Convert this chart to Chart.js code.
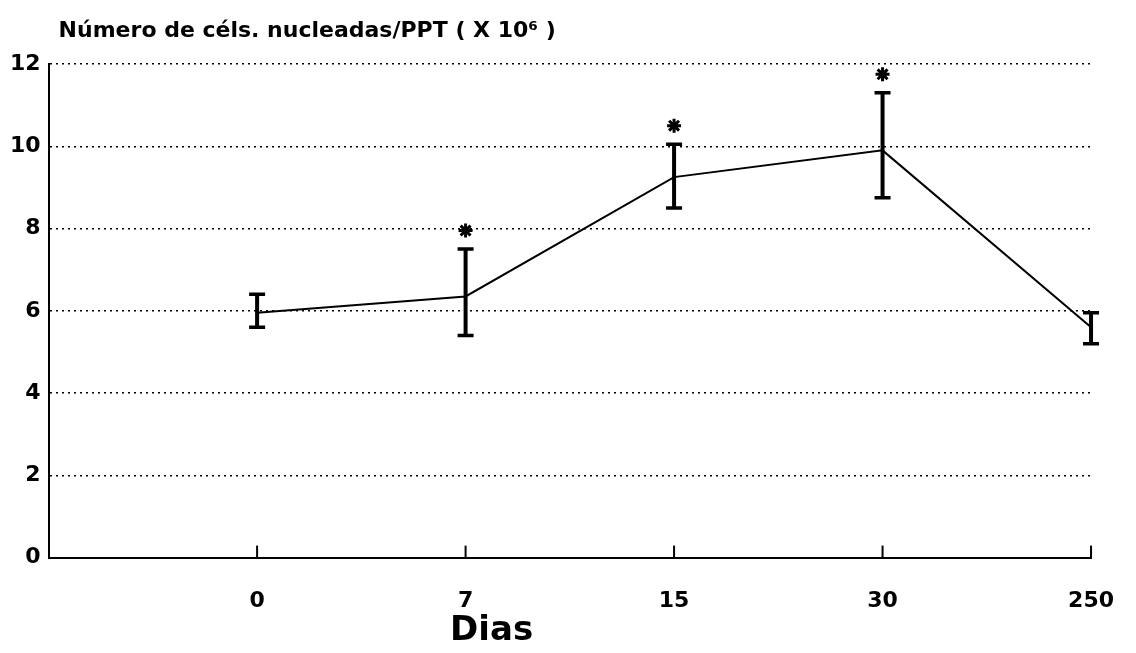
<!DOCTYPE html>
<html>
<head>
<meta charset="utf-8">
<script src="https://cdn.jsdelivr.net/npm/chart.js@4"></script>
<style>
  html, body { margin: 0; padding: 0; background: #fff; }
  #wrap { width: 1136px; height: 653px; }
</style>
</head>
<body>
<div id="wrap"><canvas id="c" width="1136" height="653"></canvas></div>
<script>
const days = ['', '0', '7', '15', '30', '250']
const means = [null, 5.95, 6.35, 9.25, 9.9, 5.6]
const errLow = [null, 5.6, 5.4, 8.5, 8.75, 5.2]
const errHigh = [null, 6.4, 7.5, 10.05, 11.3, 5.95]
const signif = [null, null, 7.95, 10.5, 11.75, null]
const yTicks = [0, 2, 4, 6, 8, 10, 12]

const titleText = 'Número de céls. nucleadas/PPT ( X 10⁶ )'
const xTitle = 'Dias'
const FONT = '"DejaVu Sans", Verdana, sans-serif'

const extras = {
    id: 'extras',
    afterDatasetsDraw(chart) {
        const { ctx, chartArea, scales: { x, y } } = chart
        ctx.save()
        ctx.strokeStyle = '#000'
        ctx.lineCap = 'butt'

        // error bars
        for (let i = 0; i < days.length; i++) {
            if (errLow[i] == null) continue
            const px = x.getPixelForValue(i)
            const lo = y.getPixelForValue(errLow[i])
            const hi = y.getPixelForValue(errHigh[i])
            ctx.lineWidth = 4
            ctx.beginPath()
            ctx.moveTo(px, lo)
            ctx.lineTo(px, hi)
            ctx.stroke()
            ctx.lineWidth = 3.5
            ctx.beginPath()
            ctx.moveTo(px - 8, lo)
            ctx.lineTo(px + 8, lo)
            ctx.moveTo(px - 8, hi)
            ctx.lineTo(px + 8, hi)
            ctx.stroke()
        }

        // small inside ticks on x axis
        ctx.lineWidth = 2
        for (let i = 1; i < days.length; i++) {
            const px = x.getPixelForValue(i)
            ctx.beginPath()
            ctx.moveTo(px, chartArea.bottom)
            ctx.lineTo(px, chartArea.bottom - 12)
            ctx.stroke()
        }

        // titles
        ctx.fillStyle = '#000'
        ctx.textBaseline = 'middle'
        ctx.textAlign = 'left'
        ctx.font = 'bold 22px ' + FONT
        ctx.fillText(titleText, chartArea.left + 10, chartArea.top - 33)
        ctx.textAlign = 'center'
        ctx.font = 'bold 34px ' + FONT
        ctx.fillText(xTitle, chartArea.left + (chartArea.right - chartArea.left) * 0.425, chartArea.bottom + 74)
        ctx.restore()
    }
}

new Chart(document.getElementById('c'), {
    type: 'line',
    data: {
        labels: days,
        datasets: [
            {
                data: means,
                borderColor: '#000',
                borderWidth: 2,
                pointRadius: 0,
                tension: 0
            },
            {
                data: signif,
                showLine: false,
                pointStyle: 'star',
                pointRadius: 7,
                borderColor: '#000',
                borderWidth: 3
            }
        ]
    },
    options: {
        animation: false,
        responsive: false,
        maintainAspectRatio: false,
        layout: {
            padding: { top: 64, right: 25, bottom: 17, left: 2 }
        },
        plugins: {
            legend: { display: false },
            tooltip: { enabled: false }
        },
        scales: {
            x: {
                offset: false,
                grid: { display: false },
                border: { color: '#000', width: 2 },
                ticks: {
                    color: '#000',
                    padding: 22,
                    maxRotation: 0,
                    autoSkip: false,
                    font: { family: FONT, size: 22, weight: 'bold' }
                }
            },
            y: {
                min: 0,
                max: 12,
                afterBuildTicks(axis) {
                    axis.ticks = yTicks.map(v => ({ value: v }))
                },
                grid: {
                    color: '#000',
                    lineWidth: 1.5,
                    tickLength: 0
                },
                border: { color: '#000', width: 2, dash: [2, 4] },
                ticks: {
                    color: '#000',
                    padding: 8,
                    font: { family: FONT, size: 22, weight: 'bold' }
                }
            }
        }
    },
    plugins: [extras]
})
</script>
</body>
</html>
